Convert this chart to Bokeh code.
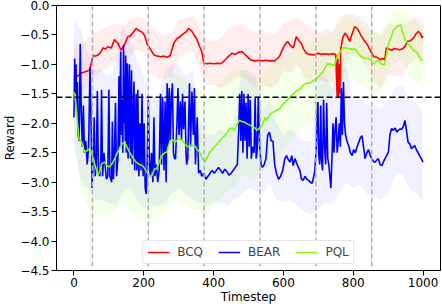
from bokeh.plotting import figure
from bokeh.models import Span, FixedTicker, CustomJSTickFormatter, Range1d
from bokeh.embed import file_html
from bokeh.resources import INLINE

# ---------------- data ----------------
x_ticks = [0, 200, 400, 600, 800, 1000]
y_ticks = [-4.5, -4.0, -3.5, -3.0, -2.5, -2.0, -1.5, -1.0, -0.5, 0.0]
phase_bounds = [53, 213, 373, 533, 693, 853]
threshold = -1.56

bcq = [(0, -1.22), (10, -1.2), (20, -1.15), (34, -1.12), (45, -1.1), (50, -0.97), (55, -0.85),
       (62, -0.86), (69, -0.84), (76, -0.8), (83, -0.72), (90, -0.74), (97, -0.7), (107, -0.72),
       (116, -0.58), (126, -0.64), (135, -0.76), (145, -0.66), (154, -0.53), (161, -0.52),
       (168, -0.47), (178, -0.39), (187, -0.43), (197, -0.46), (203, -0.52), (210, -0.66),
       (220, -0.75), (229, -0.84), (240, -0.86), (248, -0.87), (258, -0.86), (267, -0.88),
       (276, -0.85), (286, -0.64), (295, -0.56), (302, -0.54), (309, -0.5), (316, -0.47),
       (323, -0.44), (328, -0.39), (337, -0.43), (344, -0.5), (351, -0.56), (360, -0.7),
       (366, -0.78), (372, -0.98), (380, -0.99), (389, -0.98), (400, -0.99), (410, -0.98),
       (418, -0.99), (425, -0.97), (432, -0.93), (440, -0.88), (447, -0.84), (453, -0.81),
       (462, -0.83), (470, -0.8), (481, -0.78), (488, -0.82), (495, -0.86), (505, -0.92),
       (518, -0.94), (530, -0.93), (540, -0.94), (550, -0.93), (560, -0.94), (575, -0.94),
       (583, -0.9), (590, -0.85), (597, -0.75), (604, -0.67), (612, -0.61), (620, -0.68),
       (628, -0.72), (637, -0.53), (645, -0.6), (651, -0.64), (658, -0.74), (666, -0.81),
       (675, -0.83), (689, -0.84), (698, -0.81), (708, -0.83), (718, -0.82), (730, -0.83),
       (740, -0.82), (750, -0.83), (752, -1.2), (754, -1.55), (756, -0.9), (758, -1.55),
       (760, -1.0), (762, -1.5), (764, -0.75), (770, -0.55), (776, -0.47), (783, -0.52),
       (790, -0.61), (797, -0.48), (804, -0.36), (810, -0.38), (815, -0.42), (823, -0.52),
       (832, -0.6), (841, -0.67), (850, -0.78), (859, -0.87), (868, -0.88), (878, -0.92),
       (885, -0.9), (890, -0.93), (895, -0.72), (902, -0.74), (910, -0.76), (918, -0.73),
       (925, -0.74), (932, -0.75), (940, -0.74), (948, -0.7), (955, -0.61), (964, -0.6),
       (973, -0.55), (980, -0.48), (987, -0.44), (993, -0.48), (997, -0.55), (1000, -0.52)]

bear = [(0, -1.9), (2, -0.9), (4, -1.5), (6, -1.0), (8, -1.8), (10, -1.3), (12, -2.2), (15, -2.3),
        (18, -0.65), (21, -1.8), (24, -2.4), (27, -1.7), (30, -2.5), (34, -2.3), (38, -2.7),
        (42, -2.4), (46, -1.05), (49, -2.0), (52, -3.1), (55, -2.6), (58, -1.9), (61, -2.9),
        (64, -2.7), (67, -1.45), (70, -2.8), (74, -2.9), (77, -2.6), (79, -1.43), (82, -2.9),
        (86, -2.5), (89, -2.7), (93, -2.95), (97, -2.9), (100, -1.43), (103, -2.9), (108, -3.0),
        (110, -1.97), (113, -2.95), (116, -2.5), (119, -1.65), (122, -2.9), (126, -2.6),
        (129, -1.2), (131, -2.4), (132, -1.6), (134, -0.78), (136, -2.2), (138, -1.6),
        (140, -2.5), (142, -0.67), (144, -2.0), (145, -1.2), (147, -2.3), (148, -0.85),
        (150, -2.5), (151, -1.5), (153, -0.98), (155, -2.6), (156, -2.3), (158, -1.3),
        (159, -1.0), (161, -2.4), (162, -2.6), (164, -1.5), (165, -1.1), (167, -2.7),
        (168, -2.4), (170, -1.8), (172, -1.29), (174, -2.8), (175, -2.6), (177, -1.9),
        (178, -1.5), (180, -2.8), (181, -2.7), (183, -1.43), (185, -2.5), (186, -2.9),
        (188, -2.2), (189, -2.0), (192, -2.8), (195, -1.5), (198, -2.9),
        (201, -2.0), (204, -3.1), (207, -3.2), (210, -2.6), (213, -1.6), (216, -2.7),
        (219, -2.9), (222, -2.5), (226, -3.0), (229, -1.9), (232, -2.9), (236, -2.7),
        (240, -3.0), (244, -2.8), (248, -1.5), (251, -2.7), (254, -1.55), (258, -2.8),
        (261, -1.63), (264, -3.0), (267, -1.32), (270, -2.4), (273, -1.4), (276, -2.3),
        (279, -1.55), (282, -1.32), (285, -2.5), (288, -2.6), (291, -2.6), (295, -2.0),
        (298, -1.4), (301, -2.2), (305, -1.63), (308, -2.3), (311, -1.5), (314, -2.1),
        (318, -1.63), (321, -2.5), (323, -2.7), (326, -2.6), (331, -1.32), (334, -2.4),
        (338, -1.46), (342, -2.2), (345, -1.4), (348, -2.7), (353, -1.9), (357, -2.85),
        (362, -2.8), (366, -2.9), (372, -2.85), (378, -2.95), (384, -2.9), (390, -2.85),
        (396, -2.8), (402, -2.85), (408, -2.8), (414, -2.75), (420, -2.8), (426, -2.85),
        (432, -2.78), (438, -2.82), (444, -2.88), (450, -2.85), (456, -2.8), (462, -2.75),
        (468, -2.7), (472, -2.1), (475, -1.5), (478, -2.3), (481, -1.45), (484, -2.5),
        (487, -1.5), (490, -2.3), (493, -1.65), (496, -2.6), (499, -1.5), (502, -2.4),
        (505, -1.6), (508, -2.6), (512, -2.4), (516, -2.5), (519, -1.57), (522, -2.6),
        (525, -2.45), (528, -1.55), (532, -2.4), (536, -2.7), (540, -2.75), (545, -2.7),
        (550, -2.6), (555, -2.2), (560, -2.15), (565, -2.3), (570, -2.3), (575, -2.7),
        (580, -2.85), (586, -2.95), (592, -2.9), (598, -2.8), (604, -2.6), (609, -2.55),
        (614, -2.62), (619, -2.66), (624, -2.55), (628, -2.72), (633, -2.6), (638, -2.68),
        (643, -2.75), (647, -2.8), (652, -2.95), (656, -2.97), (662, -2.9), (667, -2.95),
        (672, -2.97), (677, -3.0), (682, -3.02), (687, -2.9), (690, -2.8), (694, -2.43),
        (697, -1.8), (699, -1.64), (701, -2.5), (704, -2.7), (707, -1.7), (709, -2.6),
        (712, -2.8), (715, -1.6), (718, -2.4), (721, -2.7), (724, -1.65), (727, -2.6),
        (730, -2.7), (733, -2.9), (736, -3.1), (739, -2.6), (742, -2.0), (745, -2.5),
        (748, -2.1), (751, -1.9), (754, -2.5), (757, -2.3), (760, -2.0), (763, -2.4),
        (766, -1.4), (769, -2.2), (772, -1.3), (775, -2.0), (778, -2.2), (782, -2.3),
        (787, -2.38), (792, -2.5), (797, -2.55), (801, -2.45), (806, -2.5), (811, -2.4),
        (816, -2.32), (820, -2.25), (825, -2.21), (830, -2.42), (834, -2.6), (839, -2.5),
        (844, -2.45), (849, -2.55), (853, -2.6), (858, -2.65), (863, -2.66), (868, -2.62),
        (872, -2.6), (877, -2.7), (882, -2.72), (887, -2.65), (891, -2.6), (896, -2.55),
        (901, -2.48), (905, -2.2), (910, -2.09), (915, -2.12), (920, -2.08), (925, -2.15),
        (929, -2.12), (934, -2.1), (939, -2.1), (944, -2.05), (948, -1.95), (952, -2.1),
        (957, -2.32), (962, -2.35), (967, -2.43), (972, -2.4), (976, -2.38), (981, -2.45),
        (986, -2.5), (990, -2.55), (995, -2.6), (1000, -2.66)]

pql = [(0, -1.47), (3, -1.55), (6, -1.7), (10, -2.0), (14, -2.26), (22, -2.32), (31, -2.49),
       (40, -2.45), (46, -2.43), (55, -2.6), (62, -2.75), (69, -2.88), (75, -2.8), (79, -2.69),
       (88, -2.66), (95, -2.72), (102, -2.74), (110, -2.68), (117, -2.6), (124, -2.5),
       (131, -2.43), (138, -2.35), (145, -2.32), (152, -2.4), (159, -2.49), (168, -2.58),
       (178, -2.66), (187, -2.7), (197, -2.72), (206, -2.8), (216, -2.89), (223, -2.89),
       (230, -2.78), (237, -2.77), (245, -2.65), (252, -2.55), (260, -2.5), (266, -2.49),
       (275, -2.3), (282, -2.28), (290, -2.32), (297, -2.28), (304, -2.26), (311, -2.3),
       (318, -2.35), (325, -2.4), (332, -2.38), (346, -2.38), (353, -2.45), (360, -2.49),
       (368, -2.6), (375, -2.66), (382, -2.58), (389, -2.49), (396, -2.45), (403, -2.4),
       (410, -2.35), (417, -2.3), (425, -2.25), (431, -2.22), (440, -2.15), (446, -2.09),
       (453, -2.08), (460, -2.12), (467, -2.02), (474, -1.95), (481, -1.97), (488, -1.98),
       (496, -2.01), (507, -2.04), (519, -2.08), (524, -2.12), (538, -2.05), (548, -1.9),
       (552, -1.95), (562, -1.85), (571, -1.81), (580, -1.78), (590, -1.75), (598, -1.68),
       (605, -1.64), (612, -1.6), (619, -1.56), (628, -1.5), (638, -1.45), (647, -1.42),
       (656, -1.36), (665, -1.32), (675, -1.32), (685, -1.28), (694, -1.25), (704, -1.18),
       (713, -1.13), (720, -1.05), (727, -0.99), (737, -1.0), (746, -1.02), (752, -0.9),
       (761, -0.8), (770, -0.72), (780, -0.72), (790, -0.74), (806, -0.74), (815, -0.82),
       (823, -0.87), (834, -0.9), (842, -0.9), (850, -0.92), (858, -1.0), (865, -0.95),
       (872, -0.93), (882, -1.0), (889, -1.01), (895, -0.85), (901, -0.65), (908, -0.55),
       (915, -0.42), (922, -0.38), (929, -0.34), (937, -0.33), (942, -0.48), (951, -0.6),
       (958, -0.66), (965, -0.7), (972, -0.76), (981, -0.79), (988, -0.85), (994, -0.93),
       (1000, -0.92)]

# shaded spread (lower / upper edge) sampled every 20 timesteps
band_t = list(range(0, 1001, 20))
bcq_hi = [-0.65, -0.7, -0.55, -0.45, -0.4, -0.35, -0.3, -0.35, -0.25, -0.2, -0.22, -0.35, -0.45,
          -0.5, -0.45, -0.25, -0.2, -0.18, -0.35, -0.6, -0.6, -0.55, -0.4, -0.35, -0.3, -0.4,
          -0.45, -0.4, -0.5, -0.45, -0.3, -0.25, -0.2, -0.3, -0.4, -0.45, -0.4, -0.45, -0.2,
          -0.15, -0.15, -0.2, -0.3, -0.45, -0.5, -0.3, -0.3, -0.35, -0.25, -0.2, -0.25]
bcq_lo = [-1.5, -1.45, -1.4, -1.2, -1.1, -1.05, -0.95, -1.1, -0.85, -0.75, -0.8, -1.15, -1.25,
          -1.25, -1.2, -0.9, -0.8, -0.75, -1.1, -1.35, -1.35, -1.4, -1.35, -1.25, -1.2, -1.3,
          -1.4, -1.35, -1.4, -1.35, -1.1, -1.15, -1.0, -1.2, -1.3, -1.25, -1.3, -1.3, -1.45,
          -0.95, -0.85, -0.9, -1.05, -1.3, -1.4, -1.15, -1.2, -1.2, -1.0, -0.9, -0.85]
bear_hi = [-0.25, -0.4, -0.8, -1.1, -1.1, -1.2, -1.0, -0.3, -0.6, -0.9, -1.2, -1.5, -1.6, -1.1,
           -1.0, -1.0, -1.2, -1.1, -1.9, -2.2, -2.2, -2.1, -2.2, -2.0, -1.1, -1.1, -1.2, -1.8,
           -1.6, -2.0, -2.2, -2.1, -2.2, -2.3, -2.3, -1.2, -1.2, -1.4, -1.2, -1.0, -1.6, -1.5,
           -1.7, -1.7, -1.75, -1.6, -1.4, -1.35, -1.6, -1.65, -1.8]
bear_lo = [-2.4, -3.0, -3.1, -3.3, -3.3, -3.35, -3.4, -3.2, -3.1, -3.3, -3.45, -3.4, -3.4, -3.35,
           -3.2, -3.1, -3.2, -3.3, -3.35, -3.4, -3.35, -3.35, -3.4, -3.3, -3.2, -3.1, -3.15,
           -3.2, -3.0, -3.3, -3.35, -3.3, -3.4, -3.5, -3.55, -3.45, -3.35, -3.4, -3.2, -3.0,
           -3.1, -3.05, -3.2, -3.25, -3.3, -3.2, -2.9, -2.85, -3.1, -3.2, -3.3]
pql_hi = [-0.9, -1.4, -1.5, -1.8, -1.7, -1.8, -1.55, -1.3, -1.5, -1.7, -1.7, -1.85, -1.6, -1.35,
          -1.15, -1.2, -1.25, -1.3, -1.4, -1.55, -1.4, -1.3, -1.15, -1.1, -1.05, -1.15, -1.25,
          -1.2, -1.05, -0.95, -0.85, -0.8, -0.7, -0.65, -0.6, -0.55, -0.5, -0.45, -0.3, -0.2,
          -0.25, -0.35, -0.4, -0.45, -0.45, -0.2, -0.05, -0.05, -0.2, -0.25, -0.4]
pql_lo = [-2.0, -3.2, -3.4, -3.6, -3.55, -3.6, -3.5, -3.3, -3.45, -3.6, -3.6, -3.7, -3.6, -3.5,
          -3.3, -3.3, -3.4, -3.45, -3.5, -3.6, -3.4, -3.3, -3.15, -3.1, -2.9, -2.9, -2.95,
          -2.85, -2.7, -2.6, -2.45, -2.3, -2.2, -2.05, -2.0, -1.85, -1.65, -1.55, -1.35,
          -1.25, -1.25, -1.35, -1.4, -1.5, -1.5, -1.2, -0.9, -0.9, -1.2, -1.3, -1.4]

RED, BLUE, GREEN = "#ff0000", "#0000ff", "#7cfc00"
FONT = "DejaVu Sans"
FS = "12px"

p = figure(width=442, height=306, x_range=Range1d(-50, 1050), y_range=Range1d(-4.5, 0.0),
           output_backend="svg", toolbar_location=None,
           min_border_left=40, min_border_right=2, min_border_top=5, min_border_bottom=30)
p.xgrid.visible = False
p.ygrid.visible = False
p.outline_line_color = "black"
p.outline_line_alpha = 1.0
p.outline_line_width = 1

# bands
p.varea(x=band_t, y1=bcq_lo, y2=bcq_hi, fill_color=RED, fill_alpha=0.07)
p.varea(x=band_t, y1=bear_lo, y2=bear_hi, fill_color=BLUE, fill_alpha=0.06)
p.varea(x=band_t, y1=pql_lo, y2=pql_hi, fill_color=GREEN, fill_alpha=0.09)

for b in phase_bounds:
    p.add_layout(Span(location=b, dimension="height", line_color="#b0b0b0",
                      line_dash="5 3", line_width=1.5))

p.line([a for a, _ in bcq], [b for _, b in bcq], line_color=RED, line_width=1.6, legend_label="BCQ")
p.line([a for a, _ in bear], [b for _, b in bear], line_color=BLUE, line_width=1.6, legend_label="BEAR")
p.line([a for a, _ in pql], [b for _, b in pql], line_color=GREEN, line_width=1.6, legend_label="PQL")

p.add_layout(Span(location=threshold, dimension="width", line_color="black",
                  line_dash="6 3", line_width=1.5))

# axes
p.xaxis.ticker = FixedTicker(ticks=x_ticks)
p.yaxis.ticker = FixedTicker(ticks=y_ticks)
p.yaxis.formatter = CustomJSTickFormatter(code="return tick.toFixed(1).replace('-', '\u2212');")
for ax in (p.xaxis[0], p.yaxis[0]):
    ax.major_tick_out = 5
    ax.major_tick_in = 0
    ax.minor_tick_line_color = None
    ax.axis_line_color = "black"
    ax.major_tick_line_color = "black"
    ax.major_label_text_font = FONT
    ax.major_label_text_font_size = FS
    ax.major_label_text_color = "black"
    ax.major_label_standoff = 2
    ax.axis_label_text_font = FONT
    ax.axis_label_text_font_size = FS
    ax.axis_label_text_font_style = "normal"
    ax.axis_label_text_color = "black"
p.xaxis.axis_label = "Timestep"
p.yaxis.axis_label = "Reward"
p.xaxis.axis_label_standoff = 0
p.yaxis.axis_label_standoff = 0

# legend
lg = p.legend[0]
lg.location = "bottom_center"
lg.orientation = "horizontal"
lg.label_text_font = FONT
lg.label_text_font_size = FS
lg.glyph_width = 22
lg.glyph_height = 10
lg.label_height = 10
lg.label_standoff = 8
lg.spacing = 15
lg.padding = 4
lg.margin = 6
lg.border_line_color = "#cccccc"
lg.background_fill_alpha = 0.85

open("out.html", "w").write(file_html(p, INLINE))
